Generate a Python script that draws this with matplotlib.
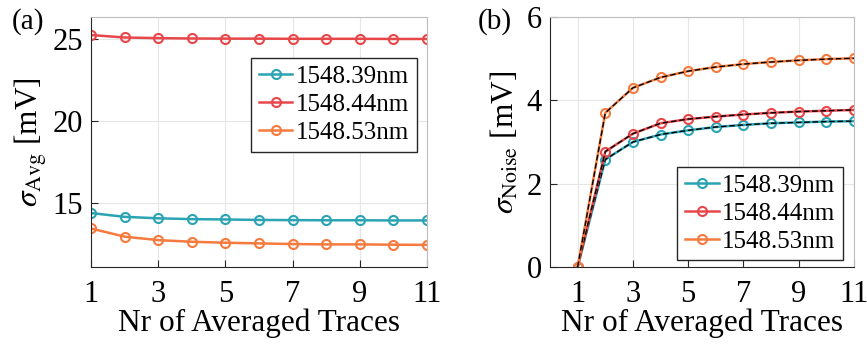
import matplotlib.pyplot as plt
import numpy as np

plt.rcParams['font.family'] = ['Liberation Serif', 'DejaVu Serif']
plt.rcParams['mathtext.fontset'] = 'stix'

traces = np.arange(1, 12)
labels = ['1548.39nm', '1548.44nm', '1548.53nm']
colors = ['#2aa3b3', '#e8474a', '#f57a3d']

# sigma_avg [mV]
avg_39 = [14.39, 14.16, 14.07, 14.02, 14.0, 13.97, 13.96, 13.95, 13.95, 13.94, 13.94]
avg_44 = [25.25, 25.1, 25.06, 25.04, 25.03, 25.03, 25.02, 25.02, 25.02, 25.01, 25.01]
avg_53 = [13.45, 12.95, 12.74, 12.64, 12.58, 12.54, 12.5, 12.48, 12.48, 12.46, 12.45]

# sigma_noise [mV]
noise_39 = [0, 2.58, 3.0, 3.18, 3.28, 3.36, 3.41, 3.45, 3.47, 3.49, 3.5]
noise_44 = [0, 2.77, 3.2, 3.45, 3.55, 3.61, 3.66, 3.7, 3.73, 3.75, 3.77]
noise_53 = [0, 3.7, 4.3, 4.55, 4.7, 4.8, 4.87, 4.92, 4.96, 4.99, 5.01]

fig = plt.figure(figsize=(8.67, 3.45), dpi=100)
axa = fig.add_axes([91/867, 1-267/345, 336/867, 250/345])
axb = fig.add_axes([550/867, 1-267/345, 304/867, 250/345])

def style(ax):
    ax.grid(True, color='#e6e6e6', linewidth=0.8)
    ax.set_axisbelow(True)
    for s in ['left', 'bottom']:
        ax.spines[s].set_color('#262626')
    for s in ['top', 'right']:
        ax.spines[s].set_color('#bdbdbd')
    ax.tick_params(labelsize=22, direction='in', length=5, color='#262626',
                   top=False, right=False)
    ax.tick_params(axis='x', pad=9)
    ax.tick_params(axis='y', pad=6)
    ax.set_xticks([1, 3, 5, 7, 9, 11])
    ax.set_xlabel('Nr of Averaged Traces', fontsize=22.5, labelpad=0)

mk = dict(marker='o', markersize=6.5, markerfacecolor='none', markeredgewidth=1.5, linewidth=1.8)
leg = dict(fontsize=18, frameon=True, fancybox=False, edgecolor='#262626', framealpha=1,
           handlelength=1.35, handletextpad=0.15, borderpad=0.3, labelspacing=0.22,
           borderaxespad=0)

for ys, c, lab in zip([avg_39, avg_44, avg_53], colors, labels):
    axa.plot(traces, ys, color=c, label=lab, **mk)
style(axa)
axa.set_xlim(1, 11)
axa.set_ylim(11.1, 26.35)
axa.set_yticks([15, 20, 25])
axa.set_ylabel(r'$\sigma_{\mathrm{Avg}}$ [mV]', fontsize=22.5, labelpad=2)
axa.legend(loc='upper right', bbox_to_anchor=(0.97, 0.836), **leg)

for ys, c, lab in zip([noise_39, noise_44, noise_53], colors, labels):
    axb.plot(traces, ys, color=c, label=lab, **mk)
    axb.plot(traces, ys, color='black', linestyle='--', linewidth=1.0, dashes=(4, 2))
style(axb)
axb.set_xlim(0, 11)
axb.set_ylim(0, 6)
axb.set_yticks([0, 2, 4, 6])
axb.set_ylabel(r'$\sigma_{\mathrm{Noise}}$ [mV]', fontsize=22.5, labelpad=4)
handles, labs = axb.get_legend_handles_labels()
axb.legend(handles[:3], labs[:3], loc='lower right', bbox_to_anchor=(0.964, 0.028), **leg)

fig.text(12/867, 1-22/345, '(a)', fontsize=21, va='center', ha='left')
fig.text(478/867, 1-22/345, '(b)', fontsize=21, va='center', ha='left')

fig.savefig('out.png', dpi=100)
